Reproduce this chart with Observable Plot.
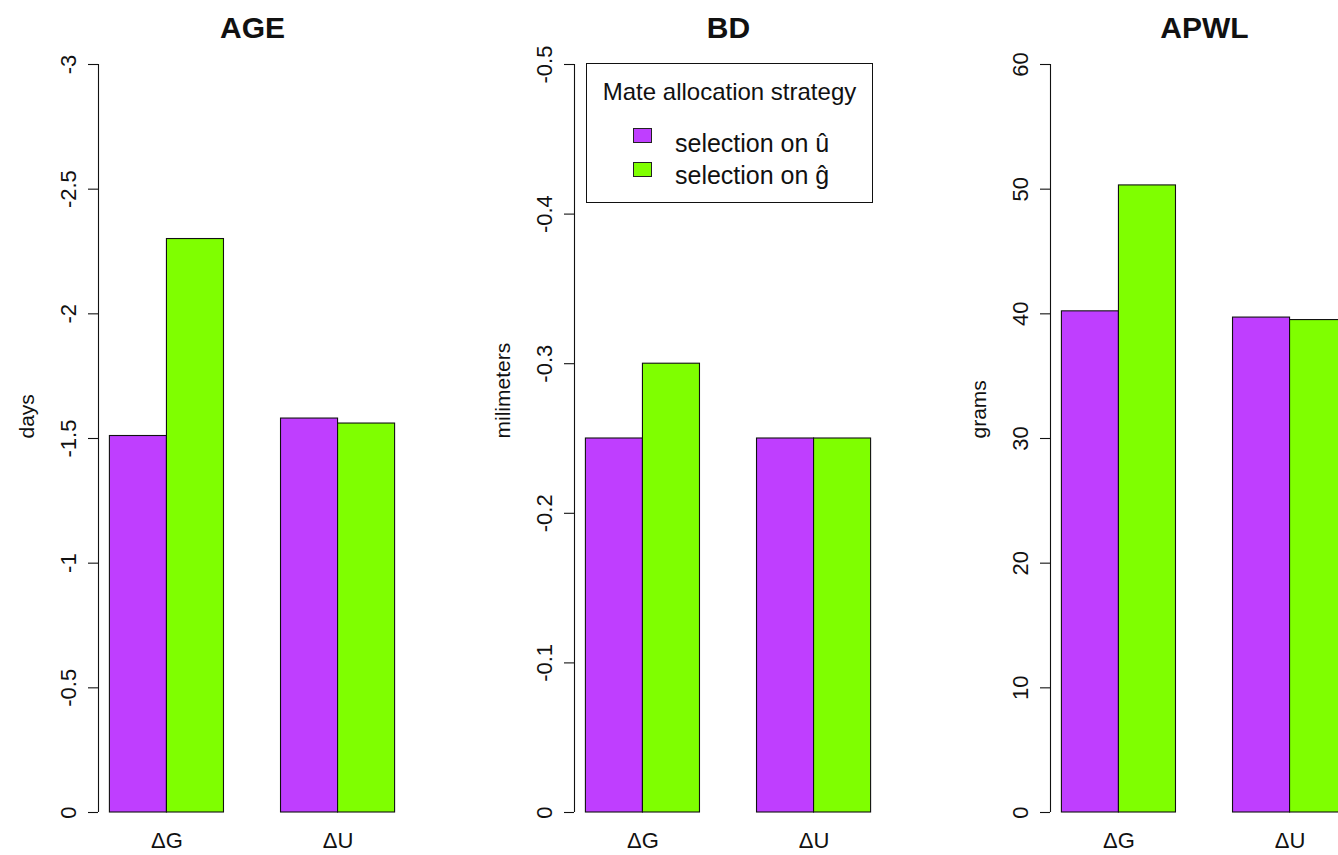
<!DOCTYPE html>
<html>
<head>
<meta charset="utf-8">
<script src="https://cdn.jsdelivr.net/npm/d3@7"></script>
<script src="https://cdn.jsdelivr.net/npm/@observablehq/plot@0.6"></script>
<style>
  body { margin: 0; background: #fff; }
  #wrap { position: relative; width: 1338px; height: 855px; overflow: hidden; background: #fff;
          font-family: "Liberation Sans", Arial, sans-serif; color: #111; }
  .panel { position: absolute; top: 0; height: 855px; overflow: hidden; }
  .panel svg { max-width: none !important; width: 476px !important; height: 855px !important; }
  #legend { position: absolute; left: 586px; top: 63px; width: 287px; height: 140px; box-sizing: border-box;
            border: 1px solid #111; background: #fff; }
  #legend .lt { position: absolute; left: 0; width: 100%; text-align: center; top: 16px;
                font-size: 24px; line-height: 1; white-space: nowrap; }
  #legend .sw { position: absolute; left: 46px; width: 19px; height: 15px; box-sizing: border-box; border: 1px solid #222; }
  #legend .lab { position: absolute; left: 88px; font-size: 25px; line-height: 1.2; white-space: nowrap; }
</style>
</head>
<body>
<div id="wrap"></div>
<script>
// ---- data ----
const groups = ["ΔG", "ΔU"];
const seriesNames = ["selection on û", "selection on ĝ"];
const seriesColors = ["#BF3EFF", "#7FFF00"];
const panelTitles = ["AGE", "BD", "APWL"];
const panelYLabels = ["days", "milimeters", "grams"];

const ageOnU = [-1.51, -1.58];
const ageOnG = [-2.30, -1.56];
const bdOnU = [-0.25, -0.25];
const bdOnG = [-0.30, -0.25];
const apwlOnU = [40.2, 39.7];
const apwlOnG = [50.3, 39.5];

const ageTicks = [0, -0.5, -1, -1.5, -2, -2.5, -3];
const bdTicks = [0, -0.1, -0.2, -0.3, -0.4, -0.5];
const apwlTicks = [0, 10, 20, 30, 40, 50, 60];

const legendTitle = "Mate allocation strategy";

// ---- build panels ----
const panelValues = [[ageOnU, ageOnG], [bdOnU, bdOnG], [apwlOnU, apwlOnG]];
const panelTicks = [ageTicks, bdTicks, apwlTicks];

const wrap = document.getElementById("wrap");
const panelWidth = 476;

function makePanel(k) {
  const vals = panelValues[k];
  // R barplot(beside=TRUE) layout: bars of width 1, one unit gap between groups
  const rows = groups.flatMap((g, gi) =>
    seriesNames.map((s, si) => ({group: g, series: s, value: vals[si][gi], pos: gi * (seriesNames.length + 1) + si + 1}))
  );
  const xMin = d3.min(rows, d => d.pos), xMax = d3.max(rows, d => d.pos + 1);
  const pad = 0.04 * (xMax - xMin);
  const xDomain = [xMin - pad, xMax + pad];
  const centers = groups.map(g => {
    const r = rows.filter(d => d.group === g);
    return (d3.min(r, d => d.pos) + d3.max(r, d => d.pos + 1)) / 2;
  });
  const ticks = panelTicks[k];
  const yDomain = [ticks[0], ticks[ticks.length - 1]];

  const chart = Plot.plot({
    width: panelWidth,
    height: 855,
    marginLeft: 98,
    marginRight: 70,
    marginTop: 64,
    marginBottom: 43,
    style: {fontFamily: "'Liberation Sans', Arial, sans-serif", color: "#111", background: "transparent"},
    x: {domain: xDomain, axis: null},
    y: {domain: yDomain, axis: null},
    color: {domain: seriesNames, range: seriesColors},
    marks: [
      Plot.rect(rows, {x1: "pos", x2: d => d.pos + 1, y1: () => 0, y2: "value", fill: "series", stroke: "#111", strokeWidth: 1.1}),
      Plot.ruleX([xDomain[0]], {y1: () => yDomain[0], y2: () => yDomain[1], stroke: "#111", strokeWidth: 1.1}),
      Plot.axisY({ticks, tickFormat: d => String(d), tickRotate: -90, tickSize: 10, tickPadding: 13, fontSize: 22, label: null, strokeWidth: 1.1}),
      Plot.axisX({ticks: centers, tickFormat: d => groups[centers.indexOf(d)], tickSize: 0, tickPadding: 20, fontSize: 22, label: null}),
      Plot.text([panelTitles[k]], {text: d => d, frameAnchor: "top", dy: -27, lineAnchor: "bottom", fontSize: 30, fontWeight: "bold"}),
      Plot.text([panelYLabels[k]], {text: d => d, frameAnchor: "left", dx: -65, rotate: -90, lineAnchor: "bottom", fontSize: 21})
    ]
  });
  const div = document.createElement("div");
  div.className = "panel";
  div.style.left = (k * panelWidth) + "px";
  div.style.width = Math.min(panelWidth, 1338 - k * panelWidth) + "px";
  div.appendChild(chart);
  wrap.appendChild(div);
}
panelTitles.forEach((t, k) => makePanel(k));

// ---- legend (inside the BD panel) ----
const legend = document.createElement("div");
legend.id = "legend";
const lt = document.createElement("div");
lt.className = "lt";
lt.textContent = legendTitle;
legend.appendChild(lt);
const swTops = [64, 98];
const labTops = [64, 96];
seriesNames.forEach((s, i) => {
  const sw = document.createElement("div");
  sw.className = "sw";
  sw.style.top = swTops[i] + "px";
  sw.style.background = seriesColors[i];
  legend.appendChild(sw);
  const lab = document.createElement("div");
  lab.className = "lab";
  lab.style.top = labTops[i] + "px";
  lab.textContent = s;
  legend.appendChild(lab);
});
wrap.appendChild(legend);
</script>
</body>
</html>
